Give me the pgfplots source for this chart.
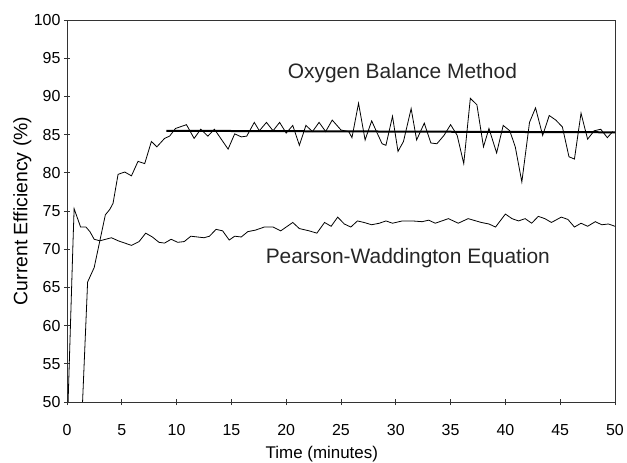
\documentclass[border=0pt]{standalone}
\usepackage{fontspec}
\setmainfont{Liberation Sans}
\usepackage{pgfplots}
\pgfplotsset{compat=1.18}
\begin{document}
\begin{tikzpicture}
\useasboundingbox (-67bp,-61bp) rectangle (560bp,402bp);
\begin{axis}[at={(0,0)},anchor=south west,
  scale only axis, width=548bp, height=382bp,
  xmin=0,xmax=50,ymin=50,ymax=100,
  xtick={0,5,...,50}, ytick={50,55,...,100},
  tick align=center, major tick length=6bp,
  xtick pos=bottom, ytick pos=left,
  axis line style={draw=black!80, line width=0.9bp},
  tick style={black!80, line width=0.9bp},
  /pgf/number format/assume math mode=true,
  tick label style={font=\fontsize{16}{18}\selectfont},
  xticklabel style={yshift=-16bp},
  xlabel={Time (minutes)}, ylabel={Current Efficiency (\%)},
  x label style={at={(axis description cs:0.465,-0.137)},anchor=center,font=\fontsize{17}{20}\selectfont},
  y label style={at={(axis description cs:-0.0815,0.5)},anchor=center,font=\fontsize{19.5}{22}\selectfont},
  clip=true]
% Oxygen Balance Method
\addplot[black, line width=0.8bp] coordinates {
(1.42,50) (1.88,65.7) (2.48,67.6) (3.5,74.5) (3.9,75.2) (4.2,76.0) (4.66,79.8) (5.27,80.1) (5.88,79.6) (6.48,81.5) (7.09,81.2) (7.7,84.1) (8.2,83.4) (8.9,84.5) (9.36,84.8) (9.9,85.8) (10.9,86.3) (11.6,84.5) (12.2,85.7) (12.85,84.8) (13.45,85.7) (14.7,83.1) (15.3,85.1) (15.9,84.7) (16.4,84.8) (17.09,86.6) (17.55,85.5) (18.2,86.6) (18.8,85.5) (19.4,86.6) (20.0,85.2) (20.6,86.2) (21.2,83.6) (21.8,86.2) (22.4,85.4) (23.0,86.6) (23.6,85.4) (24.2,86.9) (25.0,85.6) (25.7,85.4) (26.0,84.6) (26.6,89.1) (27.2,84.3) (27.8,86.8) (28.3,85.2) (28.75,83.8) (29.1,83.6) (29.7,87.4) (30.2,82.8) (30.7,84.1) (31.4,88.4) (31.9,84.3) (32.6,86.5) (33.2,83.9) (33.75,83.8) (34.4,84.9) (35.0,86.3) (35.6,84.9) (36.2,81.2) (36.8,89.75) (37.4,88.9) (38.0,83.4) (38.5,85.8) (39.2,82.6) (39.8,86.2) (40.4,85.5) (40.9,83.4) (41.5,78.8) (42.2,86.6) (42.75,88.5) (43.4,84.9) (44.0,87.5) (44.6,86.9) (45.2,86.0) (45.8,82.1) (46.3,81.8) (46.9,87.8) (47.5,84.4) (48.1,85.5) (48.7,85.7) (49.3,84.6) (49.8,85.4)
};
% average line
\addplot[black, line width=2bp] coordinates {(9.06,85.5) (50,85.3)};
% Pearson-Waddington Equation
\addplot[black, line width=0.8bp] coordinates {
(0.1,50) (0.55,71) (0.65,75.3) (1.24,72.9) (1.73,72.9) (2.09,72.3) (2.48,71.3) (3.0,71.1) (4.06,71.5) (4.67,71.1) (5.88,70.5) (6.58,71.0) (7.18,72.1) (7.79,71.6) (8.39,70.9) (8.9,70.8) (9.5,71.3) (10.1,70.9) (10.7,71.0) (11.3,71.7) (11.9,71.6) (12.5,71.5) (13.0,71.7) (13.6,72.6) (14.2,72.4) (14.8,71.2) (15.3,71.7) (15.9,71.6) (16.5,72.3) (17.2,72.5) (18.0,72.9) (18.8,72.9) (19.5,72.4) (20.6,73.5) (21.2,72.7) (22.1,72.4) (22.8,72.1) (23.5,73.5) (24.1,73.0) (24.7,74.2) (25.3,73.3) (25.9,72.9) (26.5,73.7) (27.1,73.5) (27.8,73.2) (28.5,73.4) (29.1,73.7) (29.7,73.4) (30.6,73.7) (31.5,73.7) (32.4,73.6) (33.0,73.8) (33.6,73.4) (34.8,74.0) (35.7,73.4) (36.6,74.0) (37.8,73.5) (38.5,73.3) (39.1,72.9) (40.0,74.6) (40.6,74.0) (41.2,73.7) (41.8,74.0) (42.4,73.4) (43.0,74.3) (43.6,74.0) (44.2,73.5) (45.1,74.2) (45.7,73.9) (46.3,72.9) (46.9,73.4) (47.5,73.0) (48.2,73.6) (48.8,73.2) (49.4,73.3) (50.0,73.0)
};
\node[font=\fontsize{21}{24}\selectfont, text=black!85] at (axis cs:30.6,93.1) {Oxygen Balance Method};
\node[font=\fontsize{21}{24}\selectfont, text=black!85] at (axis cs:31.1,68.8) {Pearson-Waddington Equation};
\end{axis}
\end{tikzpicture}
\end{document}
